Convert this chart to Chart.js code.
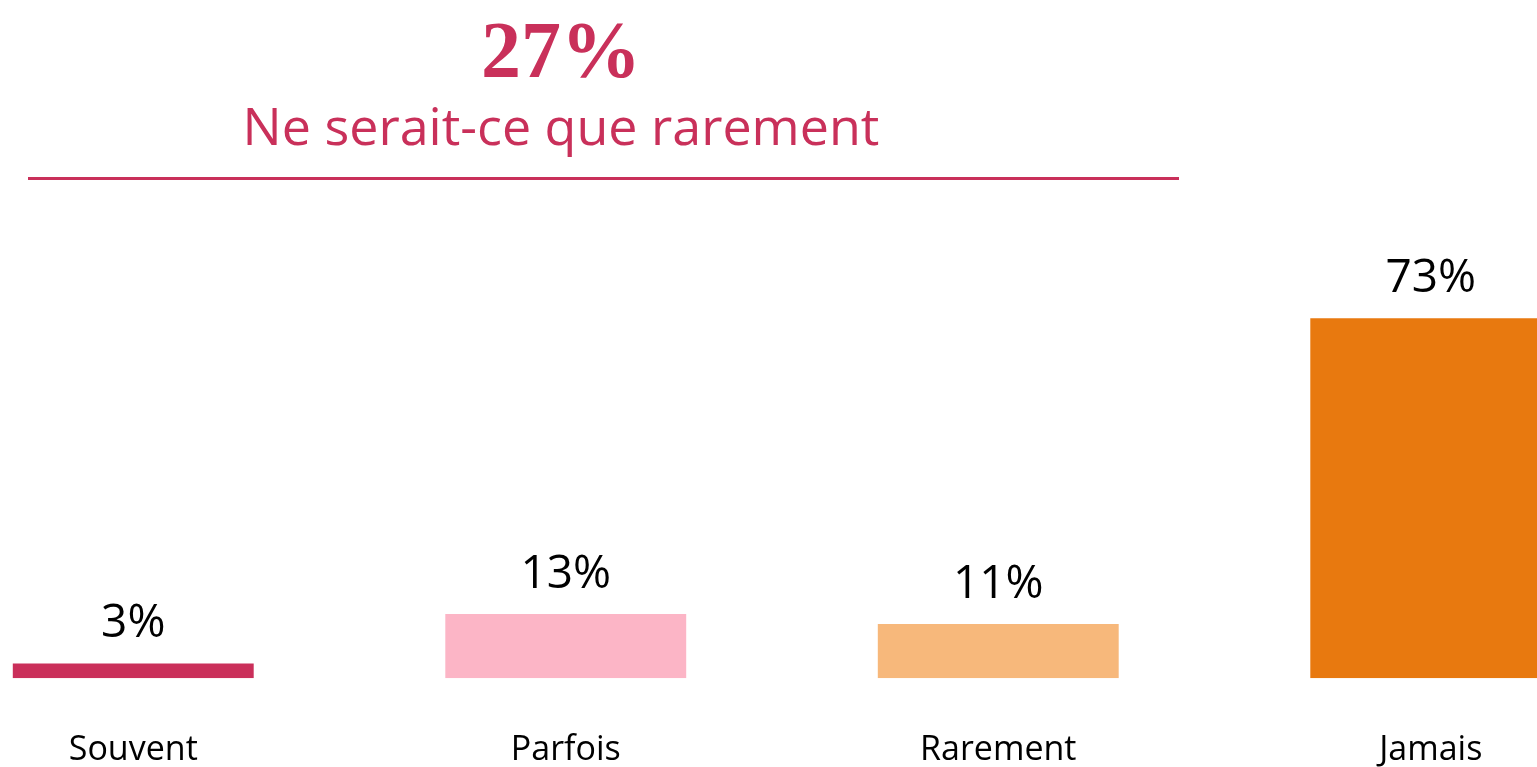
<!DOCTYPE html>
<html>
<head>
<meta charset="utf-8">
<script src="https://cdn.jsdelivr.net/npm/chart.js@4"></script>
<style>
  html, body { margin: 0; padding: 0; background: #fff; overflow: hidden; }
  body { width: 1537px; height: 767px; position: relative; }
  .big { position: absolute; left: 0; width: 1122px; top: 10px; text-align: center;
         font-family: "Liberation Serif", serif; font-weight: bold; font-size: 80px; line-height: 1; color: #C9305A; }
  .sub { position: absolute; left: 0; width: 1122px; top: 99px; text-align: center;
         font-family: "Open Sans", sans-serif; font-size: 52px; line-height: 1; color: #C9305A; }
  .rule { position: absolute; left: 28px; top: 177px; width: 1151px; height: 3px; background: #C9305A; }
  #wrap { position: absolute; left: -83px; top: 0; width: 1730px; height: 823px; }
</style>
</head>
<body>
<div class="big">27%</div>
<div class="sub">Ne serait-ce que rarement</div>
<div class="rule"></div>
<div id="wrap"><canvas id="chart" width="1730" height="823"></canvas></div>
<script>
var categories = ['Souvent', 'Parfois', 'Rarement', 'Jamais'];
var values = [3, 13, 11, 73];
var barColors = ['#CA2F5A', '#FCB5C6', '#F7B87B', '#E8790F'];

// draws the "xx%" text above each bar
var valueLabels = {
    id: 'valueLabels',
    afterDatasetsDraw: function (chart) {
        var ctx = chart.ctx;
        var meta = chart.getDatasetMeta(0);
        ctx.save();
        ctx.font = '46px "Open Sans"';
        ctx.fillStyle = '#000';
        ctx.textAlign = 'center';
        ctx.textBaseline = 'alphabetic';
        meta.data.forEach(function (bar, i) {
            ctx.fillText(values[i] + '%', bar.x, bar.y - 26);
        });
        ctx.restore();
    }
};

var ctx = document.getElementById('chart').getContext('2d');
var chart = new Chart(ctx, {
    type: 'bar',
    data: {
        labels: categories,
        datasets: [{
            data: values,
            backgroundColor: barColors,
            borderWidth: 0,
            categoryPercentage: 1,
            barPercentage: 0.557
        }]
    },
    options: {
        responsive: false,
        animation: false,
        layout: { padding: { top: 185, left: 0, right: 0, bottom: 0 } },
        plugins: { legend: { display: false }, tooltip: { enabled: false } },
        scales: {
            y: { display: false, min: 0, max: 100 },
            x: {
                grid: { display: false, drawTicks: false },
                border: { display: false },
                ticks: { color: '#000', padding: 52, font: { family: 'Open Sans', size: 34 } }
            }
        }
    },
    plugins: [valueLabels]
});
</script>
</body>
</html>
